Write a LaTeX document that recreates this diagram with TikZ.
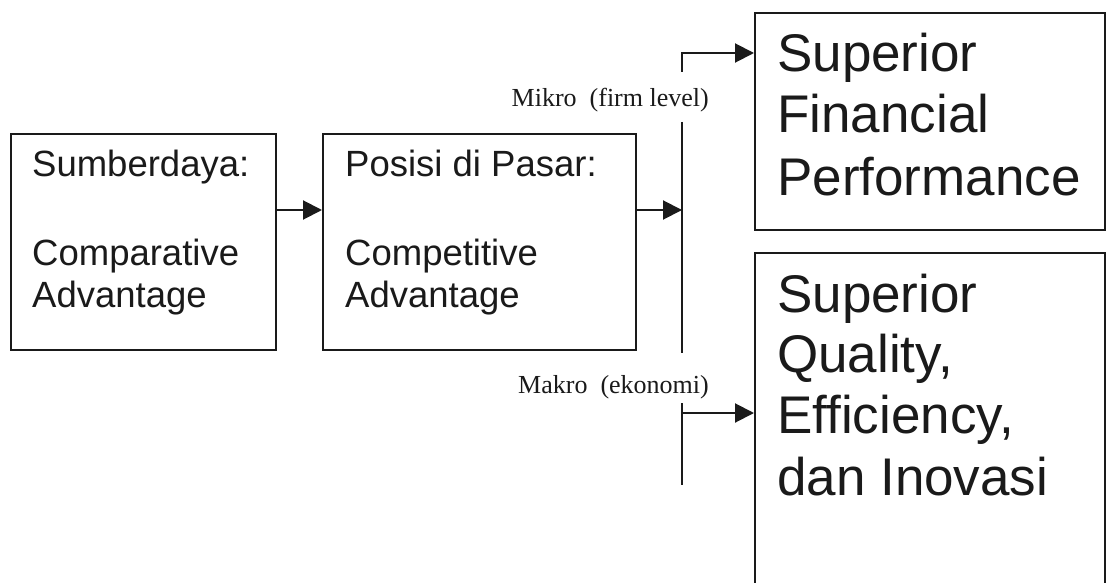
\documentclass[tikz,border=0pt]{standalone}
\usepackage{fontspec}
\setmainfont{Liberation Sans}
\newfontfamily\labelfont{Liberation Serif}
\usetikzlibrary{arrows.meta,calc}
\definecolor{ink}{HTML}{1A1A1A}
\begin{document}
\begin{tikzpicture}[x=1pt,y=1pt,
  box/.style={draw=ink,line width=2pt,inner sep=0pt,anchor=north west},
  midtext/.style={anchor=base west,inner sep=0pt,text=ink,font=\fontsize{36.5}{42}\selectfont},
  bigtext/.style={anchor=base west,inner sep=0pt,text=ink,font=\fontsize{53}{61}\selectfont},
  lbl/.style={anchor=base east,inner sep=0pt,text=ink,font=\labelfont\fontsize{26}{30}\selectfont},
  wire/.style={draw=ink,line width=2pt},
  arr/.style={wire,-{Triangle[length=19pt,width=19pt]}}]
\useasboundingbox[fill=white] (0,0) rectangle (1107,582);

% boxes
\node[box,minimum width=265,minimum height=216] (res) at (10,449) {};
\node[box,minimum width=313,minimum height=216] (pos) at (322,449) {};
\node[box,minimum width=350,minimum height=217] (fin) at (754,570) {};
\node[box,minimum width=350,minimum height=345] (qual) at (754,330) {};

% texts in the boxes
\node[midtext] (t1a) at (32,405) {Sumberdaya:};
\node[midtext] (t1b) at (32,317) {Comparative};
\node[midtext] (t1c) at (32,275) {Advantage};
\node[midtext] (t2a) at (345,405) {Posisi di Pasar:};
\node[midtext] (t2b) at (345,317) {Competitive};
\node[midtext] (t2c) at (345,275) {Advantage};
\node[bigtext] (t3a) at (777,510) {Superior};
\node[bigtext] (t3b) at (777,449) {Financial};
\node[bigtext] (t3c) at (777,387) {Performance};
\node[bigtext] (t4a) at (777,270) {Superior};
\node[bigtext] (t4b) at (777,210) {Quality,};
\node[bigtext] (t4c) at (777,149) {Efficiency,};
\node[bigtext] (t4d) at (777,87) {dan Inovasi};

% level labels
\node[lbl] (mikro) at (709,475) {Mikro\ \ (firm level)};
\node[lbl] (makro) at (709,189) {Makro\ \ (ekonomi)};

% the split line and its points
\coordinate (flow) at (0,372);
\coordinate (upS) at (682,510);
\coordinate (upE) at (682,529);
\coordinate (midS) at (682,460);
\coordinate (midE) at (682,229);
\coordinate (lowS) at (682,179);
\coordinate (lowE) at (682,97);
\coordinate (lowA) at (682,169);

\draw[wire] (midS) -- (midE);
\draw[wire] (lowS) -- (lowE);

% arrows
\draw[arr] (res.east |- flow) -- (pos.west |- flow);
\draw[arr] (pos.east |- flow) -- (midS |- flow);
\draw[arr] (upS) -- (upE) -- (upE -| fin.west);
\draw[arr] (lowA) -- (lowA -| qual.west);
\end{tikzpicture}
\end{document}
